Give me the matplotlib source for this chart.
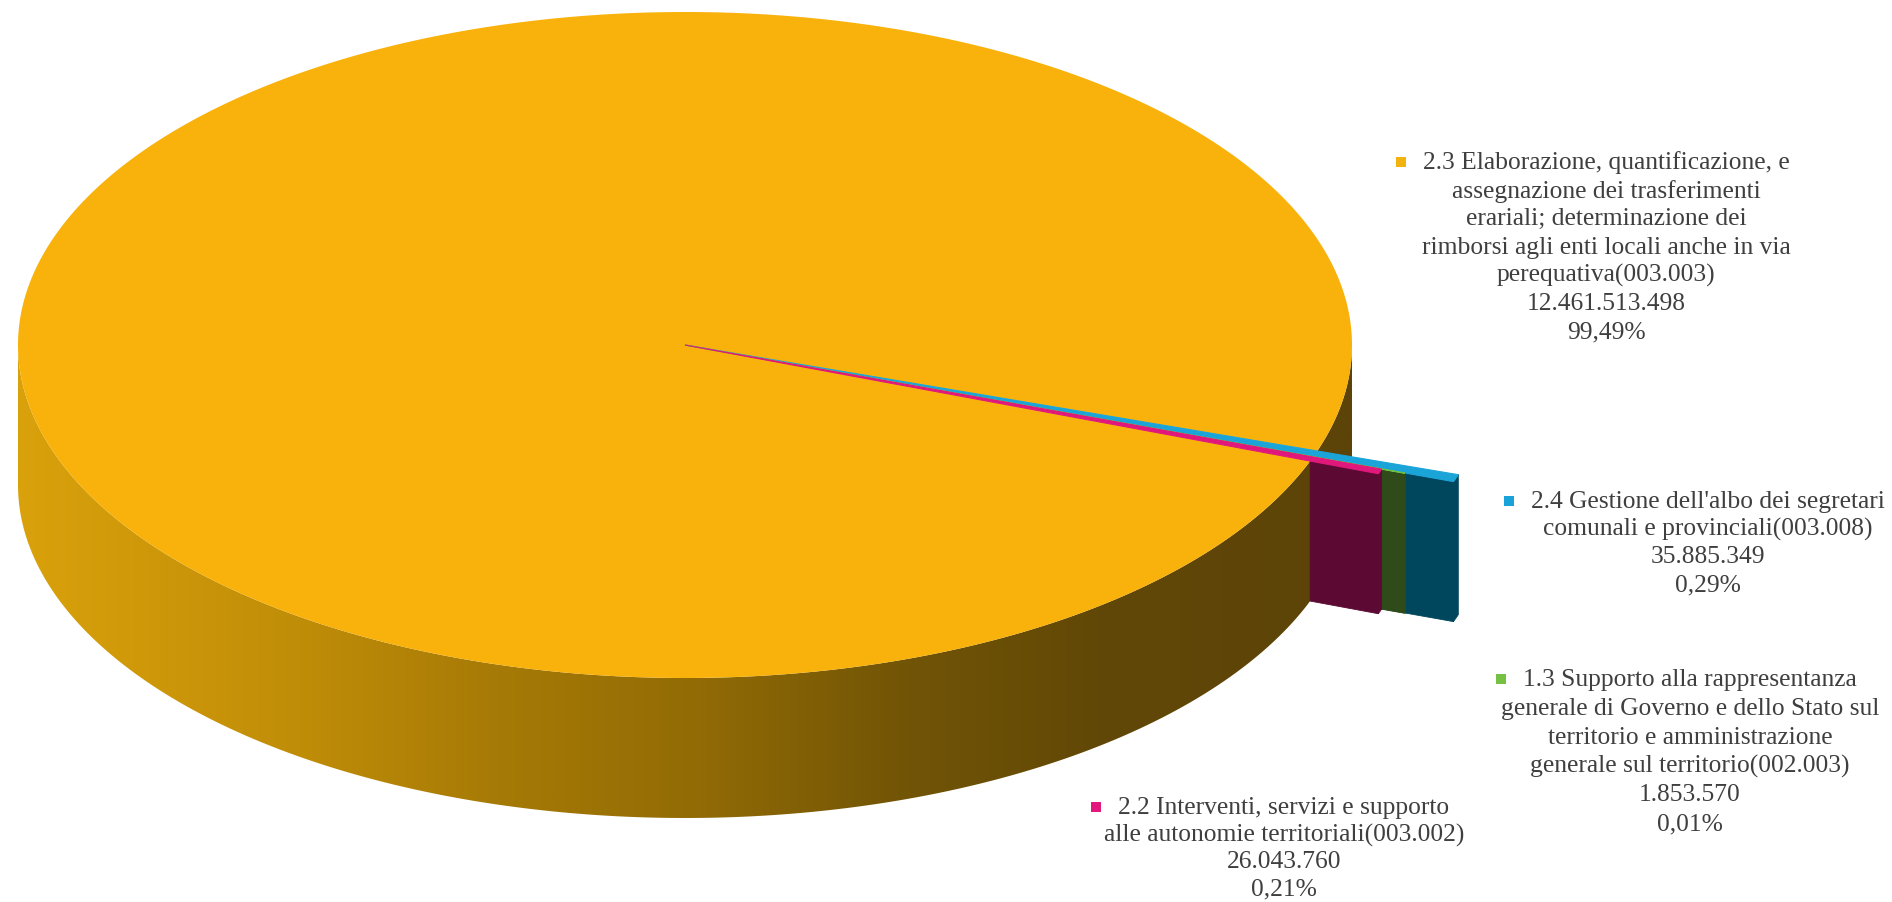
import numpy as np
import matplotlib
matplotlib.use("Agg")
import matplotlib.pyplot as plt
from matplotlib.patches import Polygon, Rectangle
from matplotlib.colors import LinearSegmentedColormap

# ---- data -------------------------------------------------------------
categories = [
    "2.3 Elaborazione, quantificazione, e\nassegnazione dei trasferimenti\nerariali; determinazione dei\n"
    "rimborsi agli enti locali anche in via\nperequativa(003.003)",
    "2.4 Gestione dell'albo dei segretari\ncomunali e provinciali(003.008)",
    "1.3 Supporto alla rappresentanza\ngenerale di Governo e dello Stato sul\n"
    "territorio e amministrazione\ngenerale sul territorio(002.003)",
    "2.2 Interventi, servizi e supporto\nalle autonomie territoriali(003.002)",
]
values = [12461513498, 35885349, 1853570, 26043760]

# ---- style ------------------------------------------------------------
top_colors = ["#F9B20B", "#1BA4D8", "#6DBF45", "#E1187C"]
face_colors = [None, "#00465C", "#2F4B19", "#5C0A33"]
key_colors = ["#F2B20F", "#1AA3D9", "#76C043", "#E2187D"]
radius_scale = [1.0, 1.223, 1.146, 1.109]

# label blocks: centre x, first line y, line step (pixels)
label_cx = [1606, 1708, 1690, 1284]
label_y0 = [163, 502, 680, 808]
label_dy = [28.2, 27.7, 28.8, 27.0]

W, H = 1892, 903
cx, cy, rx, ry = 685, 346, 667, 333
depth = 140
start_deg = 20.4

fig = plt.figure(figsize=(W / 100, H / 100), dpi=100)
ax = fig.add_axes([0, 0, 1, 1])
ax.set_xlim(0, W)
ax.set_ylim(H, 0)
ax.axis("off")


def pt(r, phi):
    return cx + rx * r * np.cos(phi), cy + ry * r * np.sin(phi)


def arc(r, p0, p1, n=200):
    ph = np.linspace(p0, p1, n)
    x, y = pt(r, ph)
    return np.column_stack([x, y])


total = float(sum(values))
fracs = [v / total for v in values]
bounds = []
acc = np.deg2rad(start_deg)
for f in fracs:
    span = 2 * np.pi * f
    bounds.append((acc, acc + span))
    acc += span

# side wall of the big slice with horizontal shading
wall_top = arc(1.0, 0, np.pi)
wall_bot = wall_top.copy()
wall_bot[:, 1] += depth
wall_poly = np.vstack([wall_top, wall_bot[::-1]])
wall_patch = Polygon(wall_poly, closed=True, facecolor="none", edgecolor="none", zorder=1)
ax.add_patch(wall_patch)
stops = [(0.0, (217, 161, 11)), (0.21, (192, 141, 8)), (0.36, (166, 122, 6)),
         (0.51, (146, 107, 5)), (0.66, (114, 85, 6)), (0.81, (98, 72, 7)),
         (1.0, (92, 67, 8))]
cmap = LinearSegmentedColormap.from_list(
    "wall", [(p, tuple(c / 255 for c in col)) for p, col in stops])
grad = np.linspace(0, 1, 600).reshape(1, -1)
im = ax.imshow(grad, cmap=cmap, extent=(cx - rx, cx + rx, cy + ry + depth, cy - ry),
               aspect="auto", zorder=1, interpolation="bilinear")
im.set_clip_path(wall_patch)

# top of the big slice
p0, p1 = bounds[0]
top = np.vstack([[cx, cy], arc(1.0, p0, p1, 720)])
ax.add_patch(Polygon(top, closed=True, facecolor=top_colors[0], edgecolor="none", zorder=2))

# thin slices, back to front
for i in range(1, len(values)):
    q0, q1 = bounds[i]
    R = radius_scale[i]
    # front radial face, part outside the big slice
    a_in = pt(1.0, q1)
    a_out = pt(R, q1)
    face = [a_in, a_out, (a_out[0], a_out[1] + depth), (a_in[0], a_in[1] + depth)]
    ax.add_patch(Polygon(face, closed=True, facecolor=face_colors[i],
                         edgecolor=face_colors[i], lw=0.6, zorder=3 + i))
    # outer rim wall
    rim = arc(R, q0, q1, 20)
    rim_b = rim.copy()
    rim_b[:, 1] += depth
    ax.add_patch(Polygon(np.vstack([rim, rim_b[::-1]]), closed=True,
                         facecolor=face_colors[i], edgecolor=face_colors[i], lw=0.6, zorder=3 + i))
    # top
    wedge = np.vstack([[cx, cy], arc(R, q0, q1, 20)])
    ax.add_patch(Polygon(wedge, closed=True, facecolor=top_colors[i],
                         edgecolor=top_colors[i], lw=0.8, zorder=3 + i))

# labels
renderer = fig.canvas.get_renderer()
font = ["Liberation Serif", "DejaVu Serif"]
inv = ax.transData.inverted()
for i, cat in enumerate(categories):
    lines = cat.split("\n") + [f"{values[i]:,}".replace(",", "."),
                               f"{fracs[i] * 100:.2f}%".replace(".", ",")]
    first = None
    for k, line in enumerate(lines):
        t = ax.text(label_cx[i], label_y0[i] + k * label_dy[i], line, ha="center", va="center",
                    fontsize=18.4, family=font, color="#3F3F3F", zorder=10)
        if k == 0:
            first = t
    bb = first.get_window_extent(renderer)
    x0 = inv.transform((bb.x0, bb.y0))[0]
    ax.add_patch(Rectangle((x0 - 27, label_y0[i] - 5), 10, 10, facecolor=key_colors[i],
                           edgecolor="none", zorder=10))

fig.savefig("out.png", dpi=100, facecolor="white")
